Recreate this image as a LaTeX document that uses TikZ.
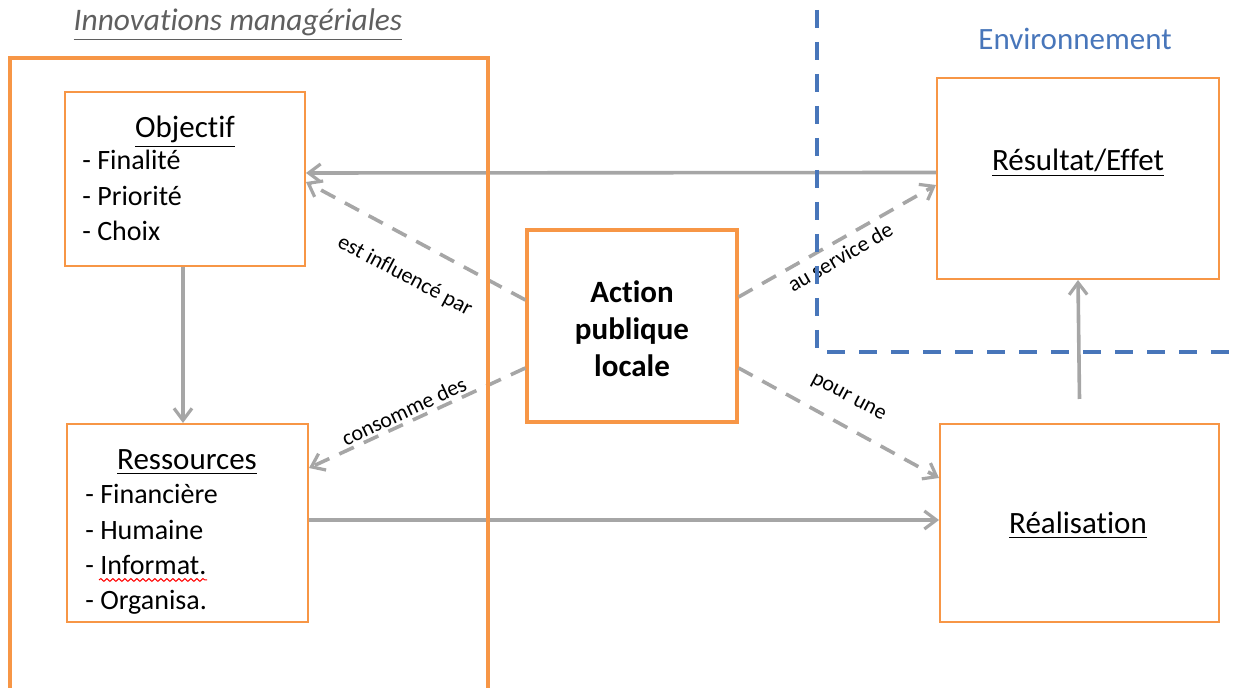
\documentclass[tikz,border=0pt]{standalone}
\usepackage{fontspec}
\setmainfont{Carlito}[Ligatures=NoCommon]
\usetikzlibrary{arrows.meta,decorations.pathmorphing}
\definecolor{orng}{RGB}{247,150,70}
\definecolor{blu}{RGB}{72,118,186}
\definecolor{gry}{RGB}{166,166,166}
\definecolor{ttl}{RGB}{95,95,95}
\tikzset{
  box/.style={draw=orng, line width=1pt, minimum width=#1, inner sep=0pt},
  arr/.style={draw=gry, line width=1.8pt, -{Straight Barb[length=6pt,width=9pt,line width=1.6pt]}},
  darr/.style={arr, dash pattern=on 8pt off 5.5pt},
  lbl/.style={font=\fontsize{11}{13}\selectfont, inner sep=0pt},
  itm/.style={font=\fontsize{14}{16}\selectfont, anchor=base west, inner sep=0pt},
  hdr/.style={font=\fontsize{15.5}{18}\selectfont, anchor=base, inner sep=0pt},
  envline/.style={draw=blu, line width=2pt, dash pattern=on 9pt off 7pt}
}
\begin{document}
\begin{tikzpicture}[x=0.5pt,y=-0.5pt]
\useasboundingbox (0,0) rectangle (1238,688);
% boxes
\node[box=120pt, minimum height=87pt] (obj) at (185,179) {};
\node[box=120.5pt, minimum height=99pt] (ress) at (187.5,523) {};
\node[box=105pt, minimum height=96pt, line width=1.6pt] (act) at (632,326) {};
\node[box=141pt, minimum height=100.5pt] (res) at (1078,178.5) {};
\node[box=139.5pt, minimum height=99pt] (real) at (1079.5,523) {};
% texts
\node[font=\fontsize{15.7}{18}\selectfont\itshape, text=ttl, anchor=base, inner sep=0pt] (title) at (238,31) {\underline{Innovations managériales}};
\node[font=\fontsize{15.5}{18}\selectfont, text=blu, anchor=base, inner sep=0pt] (env) at (1075,50) {Environnement};
\node[hdr] (objh) at (185,138) {\underline{Objectif}};
\node[itm] (o1) at (82,170) {- Finalité};
\node[itm] (o2) at (82,206) {- Priorité};
\node[itm] (o3) at (82,241) {- Choix};
\node[hdr] (ressh) at (187,470) {\underline{Ressources}};
\node[itm] (r1) at (85,504) {- Financière};
\node[itm] (r2) at (85,540) {- Humaine};
\node[itm] (r3) at (85,575) {- Informat.};
\node[itm] (r4) at (85,610) {- Organisa.};
\draw[red, line width=0.5pt, decorate, decoration={snake, segment length=3pt, amplitude=0.7pt}] (r3.base west) ++(14,5) -- ++(108,0);
\node[font=\fontsize{15.5}{18.5}\selectfont\bfseries, align=center, inner sep=0pt] (actt) at (632,329) {Action\\publique\\locale};
\node[hdr] (rest) at (1078,171) {\underline{Résultat/Effet}};
\node[hdr] (realt) at (1078,534) {\underline{Réalisation}};
% solid arrows
\draw[arr] ([yshift=3pt]res.west) -- ([yshift=3pt]obj.east);
\draw[arr] ([xshift=-1pt]obj.south) -- ([xshift=-1pt]obj.south |- ress.north);
\draw[arr] ([yshift=1.5pt]ress.east) -- ([yshift=1.5pt]real.west);
\draw[arr] ([yshift=12pt]real.north) -- (res.south);
% dashed arrows
\draw[darr] ([yshift=13pt]act.west) -- ([yshift=-1.5pt]obj.east);
\draw[darr] ([yshift=-21pt]act.west) -- ([yshift=27.5pt]ress.east);
\draw[darr] ([yshift=14.5pt]act.east) -- ([yshift=-3.25pt]res.west);
\draw[darr] ([yshift=-21pt]act.east) -- ([yshift=22.5pt]real.west);
% labels
\node[lbl, rotate=-28] (l1) at (405,276) {est influencé par};
\node[lbl, rotate=25] (l2) at (404,411) {consomme des};
\node[lbl, rotate=30] (l3) at (840,257) {au service de};
\node[lbl, rotate=-28] (l4) at (848,398) {pour une};
% frames
\draw[draw=orng, line width=2pt] (10,692) -- (10,58) -- (488,58) -- (488,692);
\draw[envline] (817,10) -- (817,352) -- (1240,352);
\end{tikzpicture}
\end{document}
